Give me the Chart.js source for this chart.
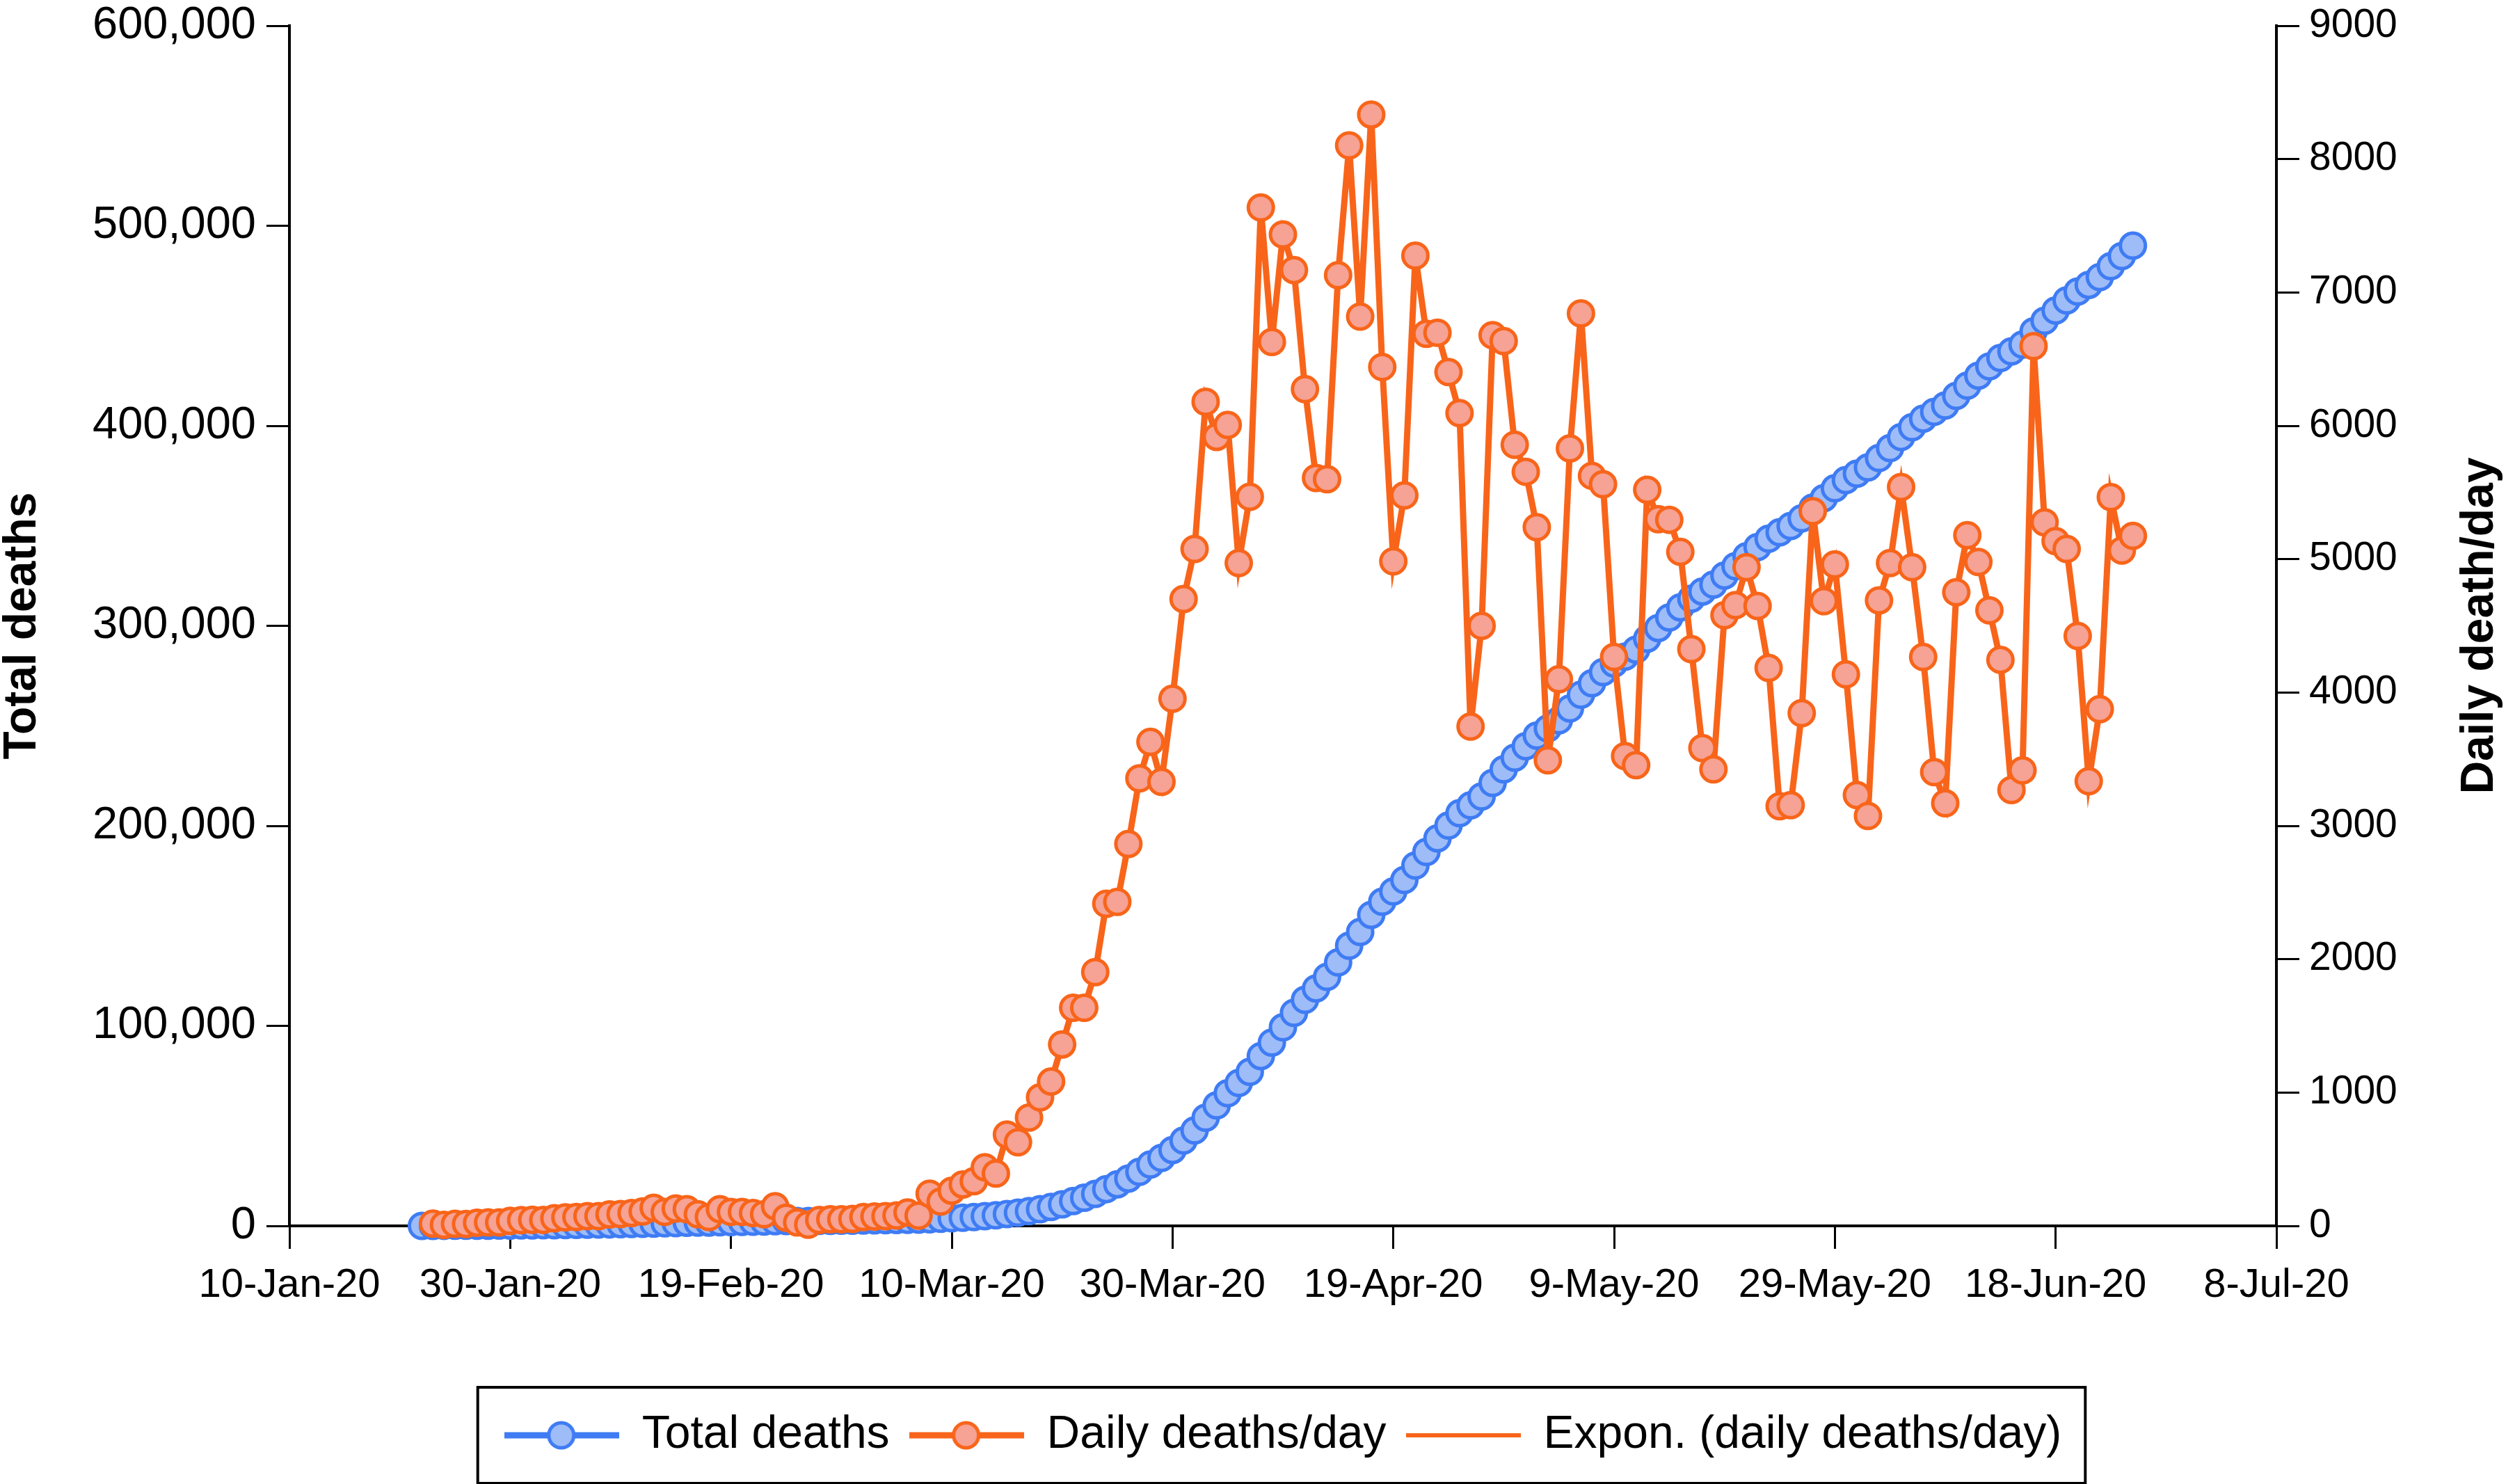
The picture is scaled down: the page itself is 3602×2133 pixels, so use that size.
<!DOCTYPE html>
<html>
<head>
<meta charset="utf-8">
<script src="https://cdn.jsdelivr.net/npm/chart.js@4.4.1/dist/chart.umd.min.js"></script>
<style>
  html, body { margin: 0; padding: 0; background: #fff; }
  canvas { display: block; }
</style>
</head>
<body>
<canvas id="chart" width="3602" height="2133"></canvas>
<script>
const dates = [
  '22-Jan','23-Jan','24-Jan','25-Jan','26-Jan','27-Jan','28-Jan','29-Jan','30-Jan','31-Jan',
  '1-Feb','2-Feb','3-Feb','4-Feb','5-Feb','6-Feb','7-Feb','8-Feb','9-Feb','10-Feb','11-Feb','12-Feb','13-Feb','14-Feb','15-Feb',
  '16-Feb','17-Feb','18-Feb','19-Feb','20-Feb','21-Feb','22-Feb','23-Feb','24-Feb','25-Feb','26-Feb','27-Feb','28-Feb','29-Feb',
  '1-Mar','2-Mar','3-Mar','4-Mar','5-Mar','6-Mar','7-Mar','8-Mar','9-Mar','10-Mar','11-Mar','12-Mar','13-Mar','14-Mar','15-Mar','16-Mar',
  '17-Mar','18-Mar','19-Mar','20-Mar','21-Mar','22-Mar','23-Mar','24-Mar','25-Mar','26-Mar','27-Mar','28-Mar','29-Mar','30-Mar','31-Mar',
  '1-Apr','2-Apr','3-Apr','4-Apr','5-Apr','6-Apr','7-Apr','8-Apr','9-Apr','10-Apr','11-Apr','12-Apr','13-Apr','14-Apr','15-Apr',
  '16-Apr','17-Apr','18-Apr','19-Apr','20-Apr','21-Apr','22-Apr','23-Apr','24-Apr','25-Apr','26-Apr','27-Apr','28-Apr','29-Apr','30-Apr',
  '1-May','2-May','3-May','4-May','5-May','6-May','7-May','8-May','9-May','10-May','11-May','12-May','13-May','14-May','15-May','16-May',
  '17-May','18-May','19-May','20-May','21-May','22-May','23-May','24-May','25-May','26-May','27-May','28-May','29-May','30-May','31-May',
  '1-Jun','2-Jun','3-Jun','4-Jun','5-Jun','6-Jun','7-Jun','8-Jun','9-Jun','10-Jun','11-Jun','12-Jun','13-Jun','14-Jun','15-Jun',
  '16-Jun','17-Jun','18-Jun','19-Jun','20-Jun','21-Jun','22-Jun','23-Jun','24-Jun','25-Jun'
];

const totalDeaths = [
  17, 34, 42, 58, 72, 96, 122, 148, 186, 229, 275,
  320, 377, 441, 507, 580, 653, 739, 828, 925, 1033, 1169, 1274, 1404, 1529, 1616,
  1682, 1807, 1912, 2017, 2113, 2200, 2348, 2409, 2435, 2444, 2488, 2537, 2586, 2638,
  2704, 2774, 2847, 2925, 3026, 3103, 3344, 3527, 3791, 4102, 4437, 4876, 5268, 5953, 6580, 7393,
  8357, 9439, 10800, 12436, 14072, 15975, 18391, 20821, 23685, 27041, 30671, 34001, 37954, 42655, 47731,
  54111, 60228, 66334, 71505, 77073, 84910, 91639, 99274, 106542, 113017, 118726, 124526, 131756, 140059, 146978,
  155512, 162053, 167237, 172915, 180191, 186981, 193779, 200182, 206377, 210222, 214722, 221502, 228237, 234095, 239850,
  245090, 248682, 252782, 258712, 265554, 271279, 276841, 281107, 284630, 288085, 293605, 298905, 304200, 309255, 313580, 317163,
  320587, 325166, 329821, 334761, 339410, 343594, 346741, 349896, 353741, 359101, 363786, 368746, 372882, 376113, 379187,
  383878, 388849, 394390, 399330, 403596, 406999, 410168, 414920, 420100, 425079, 429695, 433940, 437209, 440625, 447222,
  452498, 457633, 462709, 467133, 470468, 474343, 479808, 484873, 490048
];

const dailyDeaths = [
  null, 17, 8, 16, 14, 24, 26, 26, 38, 43, 46,
  45, 57, 64, 66, 73, 73, 86, 89, 97, 108, 136, 105, 130, 125, 87,
  66, 125, 105, 105, 96, 87, 148, 61, 26, 9, 44, 49, 49, 52,
  66, 70, 73, 78, 101, 77, 241, 183, 264, 311, 335, 439, 392, 685, 627, 813,
  964, 1082, 1361, 1636, 1636, 1903, 2416, 2430, 2864, 3356, 3630, 3330, 3953, 4701, 5076,
  6180, 5917, 6006, 4971, 5468, 7637, 6629, 7435, 7168, 6275, 5609, 5600, 7130, 8103, 6819,
  8334, 6441, 4984, 5478, 7276, 6690, 6698, 6403, 6095, 3745, 4500, 6680, 6635, 5858, 5655,
  5240, 3492, 4100, 5830, 6842, 5625, 5562, 4266, 3523, 3455, 5520, 5300, 5295, 5055, 4325, 3583,
  3424, 4579, 4655, 4940, 4649, 4184, 3147, 3155, 3845, 5360, 4685, 4960, 4136, 3231, 3074,
  4691, 4971, 5541, 4940, 4266, 3403, 3169, 4752, 5180, 4979, 4616, 4245, 3269, 3416, 6597,
  5276, 5135, 5076, 4424, 3335, 3875, 5465, 5065, 5175
];

const xTickLabels = ['10-Jan-20','30-Jan-20','19-Feb-20','10-Mar-20','30-Mar-20','19-Apr-20','9-May-20','29-May-20','18-Jun-20','8-Jul-20'];
const legendLabels = ['Total deaths','Daily deaths/day','Expon. (daily deaths/day)'];
const leftTitle = 'Total deaths';
const rightTitle = 'Daily death/day';

const BLUE = '#3f7cf4', BLUE_FILL = '#9ebcf8';
const ORANGE = '#f8651a', ORANGE_FILL = '#f6a294';
const FONT = '"Liberation Sans", Arial, Helvetica, sans-serif';

const MONTHS = {Jan:0, Feb:1, Mar:2, Apr:3, May:4, Jun:5, Jul:6};
function dayIndex(label){
  const [d, m] = label.split('-');
  return (Date.UTC(2020, MONTHS[m], parseInt(d,10)) - Date.UTC(2020, 0, 10)) / 86400000;
}

function points(values){
  return dates.map((d,i)=>({x: dayIndex(d), y: values[i]}));
}

function legendSymbol(lineWidth, lineColor, fill, border){
  const c = document.createElement('canvas');
  c.width = 165; c.height = 50;
  const g = c.getContext('2d');
  g.strokeStyle = lineColor; g.lineWidth = lineWidth;
  g.beginPath(); g.moveTo(0, 25); g.lineTo(165, 25); g.stroke();
  if(fill){
    g.beginPath(); g.arc(82, 25, 18, 0, Math.PI*2);
    g.fillStyle = fill; g.fill();
    g.lineWidth = 5; g.strokeStyle = border; g.stroke();
  }
  return c;
}

const symbols = [
  legendSymbol(9, BLUE, BLUE_FILL, BLUE),
  legendSymbol(9, ORANGE, ORANGE_FILL, ORANGE),
  legendSymbol(6, ORANGE)
];

const legendFrame = {
  id: 'legendFrame',
  afterDraw(chart){
    const boxes = chart.legend.legendHitBoxes;
    if(!boxes || !boxes.length) return;
    const left = Math.min(...boxes.map(b=>b.left)) - 38;
    const right = Math.max(...boxes.map(b=>b.left + b.width)) + 34;
    const top = boxes[0].top - 36;
    const bottom = boxes[0].top + boxes[0].height + 36;
    const g = chart.ctx;
    g.save();
    g.lineWidth = 4; g.strokeStyle = '#000';
    g.strokeRect(left, top, right - left, bottom - top);
    g.restore();
  }
};

const rightAxisTitle = {
  id: 'rightAxisTitle',
  afterDraw(chart){
    const s = chart.scales.y1, a = chart.chartArea, g = chart.ctx;
    g.save();
    g.translate(s.right - 37, (a.top + a.bottom) / 2);
    g.rotate(-Math.PI / 2);
    g.font = 'bold 66px ' + FONT;
    g.fillStyle = '#000'; g.textAlign = 'center'; g.textBaseline = 'middle';
    g.fillText(rightTitle, 0, 0);
    g.restore();
  }
};

Chart.defaults.font.family = FONT;
Chart.defaults.color = '#000';

const axisGrid = { drawOnChartArea: false, drawTicks: true, tickLength: 33, lineWidth: 3, color: '#000' };
const axisBorder = { display: true, width: 4, color: '#000' };

function fixWidth(w){
  return s => { s.width = w; s.paddingTop = 0; s.paddingBottom = 0; };
}

new Chart(document.getElementById('chart'), {
  type: 'line',
  data: {
    datasets: [
      { label: legendLabels[0], data: points(totalDeaths), yAxisID: 'y',
        borderColor: BLUE, borderWidth: 9, pointRadius: 18, pointBorderWidth: 5,
        pointBackgroundColor: BLUE_FILL, pointBorderColor: BLUE, tension: 0, clip: false, order: 2 },
      { label: legendLabels[1], data: points(dailyDeaths), yAxisID: 'y1',
        borderColor: ORANGE, borderWidth: 9, pointRadius: 18, pointBorderWidth: 5,
        pointBackgroundColor: ORANGE_FILL, pointBorderColor: ORANGE, tension: 0, clip: false, order: 1 },
      { label: legendLabels[2], data: [], yAxisID: 'y1', borderColor: ORANGE, borderWidth: 6, pointRadius: 0, order: 3 }
    ]
  },
  options: {
    responsive: false,
    animation: false,
    devicePixelRatio: 1,
    layout: { padding: { top: 37, bottom: 27, left: 0, right: 0 } },
    plugins: {
      tooltip: { enabled: false },
      legend: {
        position: 'bottom',
        fullSize: false,
        labels: {
          usePointStyle: true,
          pointStyleWidth: 165,
          padding: 28,
          font: { size: 66 },
          color: '#000',
          generateLabels: () => legendLabels.map((t,i)=>({
            text: t, pointStyle: symbols[i], fillStyle: 'rgba(0,0,0,0)', strokeStyle: 'rgba(0,0,0,0)',
            lineWidth: 0, hidden: false, datasetIndex: i, fontColor: '#000'
          }))
        }
      }
    },
    scales: {
      x: {
        type: 'linear', min: 0, max: 180,
        ticks: { stepSize: 20, autoSkip: false, maxRotation: 0, padding: 18, font: { size: 58 },
                 callback: v => xTickLabels[Math.round(v / 20)] },
        grid: axisGrid, border: axisBorder,
        afterFit: s => { s.height = 240; }
      },
      y: {
        position: 'left', min: 0, max: 600000,
        ticks: { stepSize: 100000, padding: 15, font: { size: 65 }, callback: v => v.toLocaleString('en-US') },
        title: { display: true, text: leftTitle, font: { size: 66, weight: 'bold', lineHeight: 1 }, padding: 0 },
        grid: axisGrid, border: axisBorder,
        afterFit: fixWidth(416)
      },
      y1: {
        position: 'right', min: 0, max: 9000,
        ticks: { stepSize: 1000, padding: 14, font: { size: 57 }, callback: v => String(v) },
        grid: axisGrid, border: axisBorder,
        afterFit: fixWidth(330)
      }
    }
  },
  plugins: [legendFrame, rightAxisTitle]
});
</script>
</body>
</html>
